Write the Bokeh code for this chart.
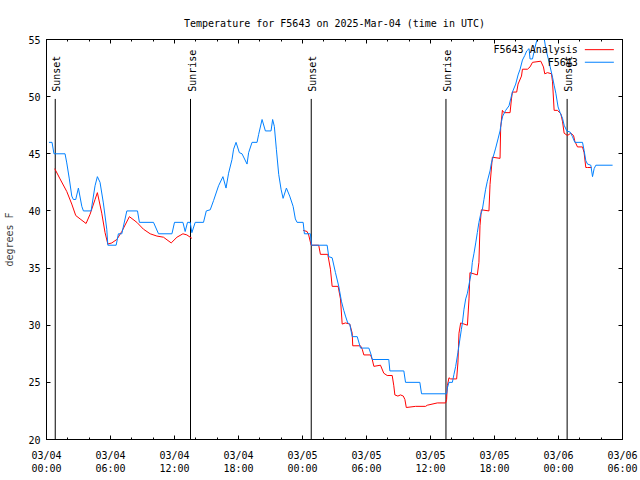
import math
from bokeh.plotting import figure
from bokeh.models import (Range1d, FixedTicker, LinearAxis, Label, Arrow, ColumnDataSource)
from bokeh.core.properties import value
from bokeh.embed import file_html
from bokeh.resources import INLINE

FONT = "DejaVu Sans Mono"

# ---------------- data ----------------
title_text = "Temperature for F5643 on 2025-Mar-04 (time in UTC)"
y_label = "degrees F"
series_names = ["F5643 Analysis", "F5643"]

# hours since 03/04 00:00 UTC
x_tick_hours = [0, 6, 12, 18, 24, 30, 36, 42, 48, 54]
x_tick_labels = ["03/04\n00:00", "03/04\n06:00", "03/04\n12:00", "03/04\n18:00",
                 "03/05\n00:00", "03/05\n06:00", "03/05\n12:00", "03/05\n18:00",
                 "03/06\n00:00", "03/06\n06:00"]
x_minor_hours = list(range(0, 55, 2))
y_ticks = [20, 25, 30, 35, 40, 45, 50, 55]

sun_hours = [0.82, 13.50, 24.82, 37.45, 48.81]
sun_labels = ["Sunset", "Sunrise", "Sunset", "Sunrise", "Sunset"]

obs_hours = [0.23, 0.52, 0.70, 1.74, 1.90, 2.14, 2.37, 2.52, 2.74, 2.99, 3.31, 3.46, 4.18,
             4.55, 4.77, 5.02, 5.33, 5.65, 5.75, 6.53, 6.74, 7.06, 7.53, 8.53, 8.71, 10.03,
             10.50, 11.76, 12.00, 12.79, 13.00, 13.22, 13.47, 13.63, 13.94, 14.72, 14.98,
             15.35, 15.66, 16.13, 16.54, 16.83, 17.07, 17.39, 17.54, 17.77, 18.08, 18.33,
             18.80, 18.95, 19.27, 19.74, 19.89, 20.21, 20.52, 21.05, 21.20, 21.36, 21.55,
             21.77, 21.99, 22.18, 22.49, 22.80, 23.12, 23.33, 23.49, 24.06, 24.18, 24.74,
             24.84, 26.31, 26.46, 26.78, 27.09, 27.40, 27.65, 27.87, 28.03, 28.24, 28.43,
             28.66, 29.13, 29.44, 30.22, 30.44, 30.54, 32.09, 32.19, 33.50, 33.66, 35.00,
             35.16, 37.51, 37.58, 37.73, 38.05, 38.20, 38.36, 38.57, 38.76, 38.89, 38.99,
             39.14, 39.30, 39.46, 39.70, 39.83, 39.92, 40.08, 40.24, 40.39, 40.54, 40.70,
             40.86, 41.01, 41.17, 41.33, 41.58, 41.71, 41.90, 42.11, 42.33, 42.52, 42.65,
             42.77, 43.05, 43.36, 43.52, 43.68, 43.99, 44.21, 44.40, 44.62, 44.84, 45.02,
             45.24, 45.33, 45.56, 45.77, 45.96, 46.20, 46.50, 46.81, 47.12, 47.44, 47.59,
             47.75, 47.96, 48.15, 48.38, 48.53, 48.78, 49.09, 49.31, 49.53, 50.25, 50.40,
             50.56, 50.72, 51.03, 51.19, 51.34, 51.50, 53.07]
obs_temps = [46, 46, 45, 45, 44.2, 42.8, 41.3, 41, 41, 42, 40.4, 40, 40,
             42.2, 43, 42.5, 40.7, 38.4, 37, 37, 38, 38, 40, 40, 39, 39,
             38, 38, 39, 39, 38.2, 39, 39, 38.1, 39, 39, 40,
             40.1, 40.9, 42.2, 43, 42, 43.3, 44.5, 45.4, 46, 45.1, 45,
             44.1, 45.1, 46, 46, 46.7, 48, 47, 47, 48, 47.4, 45.4,
             43.2, 41.9, 41.1, 42, 41.3, 40.4, 39.3, 39, 39, 38, 38,
             37, 37, 36, 35.9, 34.6, 33.4, 32.1, 31.3, 30.8, 30.2, 30.1,
             29, 29, 28, 28, 27.4, 27, 27, 26, 26, 25, 25,
             24, 24, 24.5, 25, 25, 25.7, 26.4, 27.6, 28.8, 29.6, 30.2,
             31.4, 32.3, 32.8, 34, 34.6, 35.5, 36.3, 37.2, 38.1, 39, 39.7,
             40.1, 41, 41.9, 42.6, 43.5, 44.2, 44.8, 45.5, 46.3, 47, 47.8,
             48.3, 48.8, 49.2, 49.8, 50.4, 51.1, 51.9, 52.4, 53.2, 53.6, 54,
             54.2, 53.3, 53.3, 54.2, 54.9, 56, 56, 54.2, 53, 51.7, 51,
             50.3, 49.1, 48.6, 48.1, 47.5, 47, 46.9, 46.5, 46, 46, 45.3,
             44.4, 44.1, 44, 43, 43.7, 44, 44]

nan = float("nan")
ana_hours = [0.77, 1.27, 1.90, 2.37, 2.74, 3.15, 3.71, 4.08, 4.55, 4.77, 5.18, 5.49, 5.75,
             6.12, 6.59, 7.06, 7.77, 8.47, 9.09, 9.72, 10.35, 10.97, 11.69, 12.23, 12.79,
             13.16, 13.63, nan,
             24.06, 24.43, 24.58, 24.81, 25.52, 25.68, 26.37, 26.62, 26.78, 27.34, 27.56,
             27.72, 28.03, 28.43, 28.66, 28.71, 29.44, 29.60, 29.75, 30.38, 30.54, 30.69,
             31.31, 31.62, 31.94, 32.41, 32.56, 32.66, 32.94, 33.19, 33.45, 33.60, 33.73,
             34.60, 35.54, 35.70, 36.64, 37.42, 37.51, 37.58, 37.73, 37.89, 38.45, 38.57,
             38.67, 38.83, 39.46, 39.61, 39.70, 40.39, 40.54, 40.64, 40.77, 41.48, 41.58,
             41.80, 42.52, 42.58, 42.74, 42.89, 43.46, 43.59, 43.68, 44.08, 44.21, 44.53,
             44.62, 45.09, 45.33, 45.56, 46.34, 46.59, 46.71, 46.97, 47.34, 47.44, 47.59,
             47.90, 48.22, 48.38, 48.53, 48.84, 49.15, 49.41, 49.53, 49.78, 50.25, 50.40,
             50.56, 50.72, 51.10]
ana_temps = [43.7, 42.8, 41.7, 40.6, 39.6, 39.3, 38.9, 39.7, 41, 41.6, 39.8, 38.1, 37.1,
             37.2, 37.5, 38.2, 39.5, 39, 38.4, 38, 37.8, 37.7, 37.2, 37.7, 38,
             37.9, 37.6, nan,
             38.3, 38.2, 37.9, 37, 37, 36.2, 36.2, 34.9, 33.4, 33.4, 32.3,
             30.1, 30.2, 30.1, 29.3, 28.2, 28.2, 27.9, 27.4, 27.4, 27, 26.4,
             26.5, 25.8, 25.6, 25.6, 24.7, 23.9, 23.8, 23.9, 23.8, 23.5, 22.8,
             22.9, 22.9, 23, 23.2, 23.2, 23.5, 24.7, 25.4, 25.3, 25.3, 26.7,
             29.3, 30.2, 30, 32.3, 34.6, 34.4, 35.5, 38.7, 40.1, 40, 42.3,
             44.7, 44.6, 47.3, 48.8, 48.6, 48.6, 49.8, 50.4, 50.4, 51.1, 51.8,
             52.4, 52.4, 52.6, 53, 53.1, 52.6, 52, 52.1, 52, 51.3, 48.8,
             48.8, 48.5, 47.8, 46.8, 46.6, 46.8, 46.6, 46.1, 45.6, 45.6, 45.1,
             43.8, 43.8, 43.8]

# ---------------- figure ----------------
p = figure(width=640, height=480, output_backend="svg", toolbar_location=None,
           x_range=Range1d(0, 54), y_range=Range1d(20, 55),
           min_border_left=46, min_border_right=18, min_border_top=39, min_border_bottom=41)
p.background_fill_color = "white"
p.border_fill_color = "white"
p.outline_line_color = "black"
p.outline_line_width = 1
p.xgrid.visible = False
p.ygrid.visible = False

p.title.text = title_text
p.title.align = "center"
p.title.text_font = FONT
p.title.text_font_size = "10px"
p.title.text_font_style = "normal"
p.title.text_color = "black"
p.title.standoff = 22

xt = FixedTicker(ticks=x_tick_hours, minor_ticks=x_minor_hours)
yt = FixedTicker(ticks=y_ticks, minor_ticks=[])

def style_axis(ax, labels=True):
    ax.axis_line_color = "black"
    ax.major_tick_line_color = "black"
    ax.minor_tick_line_color = "black"
    ax.major_tick_in = 4
    ax.major_tick_out = 0
    ax.minor_tick_in = 2
    ax.minor_tick_out = 0
    ax.major_label_text_font = FONT
    ax.major_label_text_color = "black"
    ax.major_label_text_font_size = "10px"
    if not labels:
        ax.major_label_text_color = None
        ax.major_label_text_font_size = "1px"
        ax.major_label_standoff = 0

xa = p.xaxis[0]
xa.ticker = xt
xa.major_label_overrides = {float(h): s for h, s in zip(x_tick_hours, x_tick_labels)}
style_axis(xa)
xa.major_label_standoff = 10
xa.major_label_text_line_height = 1.2

ya = p.yaxis[0]
ya.ticker = yt
ya.major_label_overrides = {float(v): str(v) for v in y_ticks}
style_axis(ya)
ya.major_label_standoff = 6
ya.axis_label = y_label
ya.axis_label_text_font = FONT
ya.axis_label_text_font_size = "10px"
ya.axis_label_text_font_style = "normal"
ya.axis_label_standoff = 10

top = LinearAxis(ticker=xt)
style_axis(top, labels=False)
p.add_layout(top, "above")
right = LinearAxis(ticker=yt)
style_axis(right, labels=False)
p.add_layout(right, "right")

# sunrise / sunset markers
sun_src = ColumnDataSource(dict(x=sun_hours, y0=[20] * len(sun_hours),
                                y1=[49.8] * len(sun_hours), ty=[50.42] * len(sun_hours),
                                t=sun_labels))
p.segment(x0="x", y0="y0", x1="x", y1="y1", source=sun_src, line_color="black", line_width=1)
p.text(x="x", y="ty", text="t", source=sun_src, angle=math.pi / 2, text_align="left",
       text_baseline="middle", x_offset=1.5, text_font=value(FONT),
       text_font_size="10px", text_color="black")

# series
p.line(ana_hours, ana_temps, line_color="#ff0000", line_width=1)
p.line(obs_hours, obs_temps, line_color="#0080ff", line_width=1)

# gnuplot-style key (text then sample line)
key_rows = [(54.11, series_names[0], "#ff0000"), (53.01, series_names[1], "#0080ff")]
for yy, name, col in key_rows:
    p.add_layout(Label(x=49.81, y=yy, text=name, text_align="right", text_baseline="middle",
                       text_font=FONT, text_font_size="10px", text_color="black"))
    p.add_layout(Arrow(x_start=50.47, y_start=yy, x_end=53.19, y_end=yy, start=None, end=None,
                       line_color=col, line_width=1))

open("out.html", "w").write(file_html(p, INLINE))
